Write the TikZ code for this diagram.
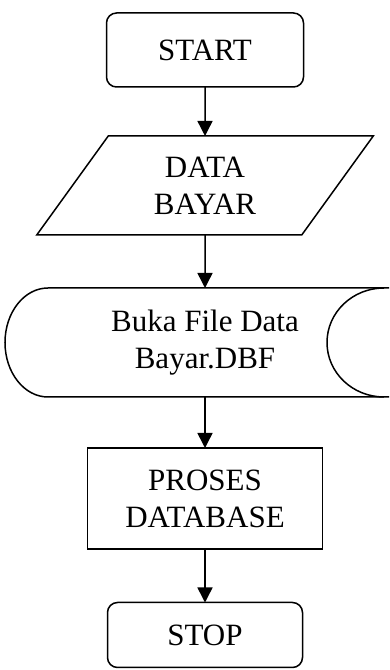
\documentclass[tikz,border=0pt]{standalone}
\usepackage{fontspec}
\setmainfont{Liberation Serif}
\usetikzlibrary{calc,shapes.geometric,arrows.meta}

\begin{document}
\begin{tikzpicture}[x=1pt,y=1pt,inner sep=0pt,outer sep=0pt,line width=1.5pt,
    every node/.style={font=\fontsize{31}{37}\selectfont, align=center},
    term/.style={draw, rounded corners=10pt},
    proc/.style={draw},
    io/.style={draw, trapezium, trapezium left angle=56.7, trapezium right angle=123.3,
        trapezium stretches=true},
    flow/.style={-{Triangle[length=15pt,width=15pt]}}]
    \useasboundingbox (0,0) rectangle (389,670);

    % start
    \node[term, minimum width=197pt, minimum height=74pt] (start) at (205,620) {START};

    % input
    \node[io, minimum width=337pt, minimum height=99pt] (data) at (205,484.5)
    {DATA\\BAYAR};

    % stored data
    \node[minimum width=314pt, minimum height=109pt] (buka) at (205,327.5)
    {Buka File Data\\Bayar.DBF};
    \draw ($(buka.north east)+(27,0)$) -- (buka.north west)
        arc[start angle=90, end angle=270, x radius=43, y radius=54.5]
        -- ($(buka.south east)+(27,0)$);
    \draw ($(buka.north east)+(22,0)$)
        arc[start angle=90, end angle=270, x radius=57, y radius=54.5];

    % process
    \node[proc, minimum width=235pt, minimum height=101pt] (proses) at (205,171.5)
    {PROSES\\DATABASE};

    % stop
    \node[term, minimum width=195pt, minimum height=65pt] (stop) at (205,35) {STOP};

    % arrows
    \draw[flow] (start.south) -- (data.north);
    \draw[flow] (data.south) -- (buka.north);
    \draw[flow] (buka.south) -- (proses.north);
    \draw[flow] (proses.south) -- (stop.north);
\end{tikzpicture}
\end{document}
